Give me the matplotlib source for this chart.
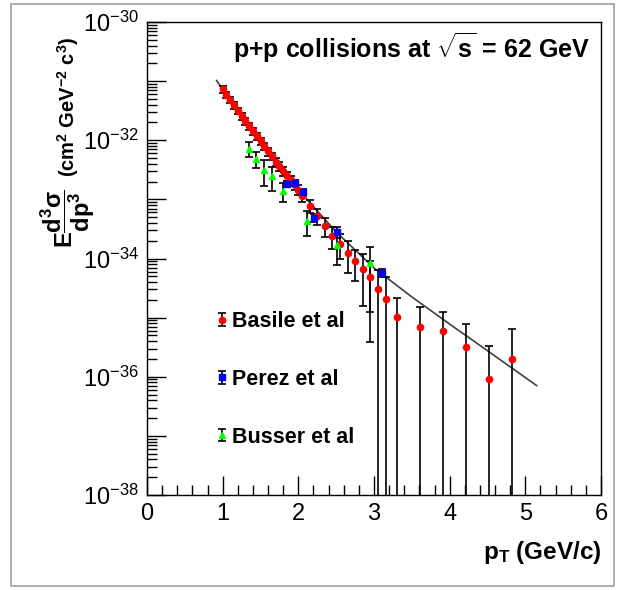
import numpy as np
import matplotlib.pyplot as plt
from matplotlib.ticker import LogLocator, MultipleLocator, FuncFormatter, NullFormatter, FixedLocator
from matplotlib.patches import Rectangle
from matplotlib.container import ErrorbarContainer
from matplotlib.legend_handler import HandlerErrorbar

plt.rcParams['font.family'] = ['Liberation Sans', 'DejaVu Sans']
plt.rcParams['mathtext.fontset'] = 'custom'
plt.rcParams['mathtext.rm'] = 'Liberation Sans'
plt.rcParams['mathtext.bf'] = 'Liberation Sans:bold'
plt.rcParams['mathtext.it'] = 'Liberation Sans:italic'

# Basile et al (red) - log10 of cross section, relative errors
basile_pt = [1.00, 1.05, 1.10, 1.15, 1.20, 1.25, 1.30, 1.35, 1.40, 1.45, 1.50,
             1.55, 1.60, 1.65, 1.70, 1.75, 1.80, 1.85, 1.90, 1.95, 2.00, 2.05,
             2.15, 2.25, 2.35, 2.45, 2.55, 2.65, 2.75, 2.85, 2.95, 3.05, 3.16,
             3.30, 3.61, 3.91, 4.21, 4.52, 4.82]
basile_log = [-31.14, -31.23, -31.32, -31.41, -31.50, -31.59, -31.68, -31.76, -31.85, -31.93, -32.02,
              -32.10, -32.19, -32.27, -32.36, -32.44, -32.52, -32.60, -32.68, -32.76, -32.84, -32.94,
              -33.11, -33.28, -33.45, -33.62, -33.75, -33.90, -34.04, -34.17, -34.32, -34.51, -34.69,
              -34.99, -35.16, -35.23, -35.50, -36.04, -35.70]
basile_rel = [0.12, 0.12, 0.12, 0.12, 0.12, 0.13, 0.13, 0.13, 0.14, 0.14, 0.14,
              0.15, 0.15, 0.15, 0.16, 0.16, 0.17, 0.17, 0.18, 0.18, 0.19, 0.20,
              0.25, 0.30, 0.35, 0.40, 0.45, 0.55, 0.55, 0.77, 0.92, 1.09, 1.40,
              1.09, 1.19, 1.09, 1.45, 2.70, 2.24]

# Perez et al (blue)
perez_pt = [1.85, 1.95, 2.06, 2.21, 2.51, 3.11]
perez_log = [-32.74, -32.72, -32.88, -33.31, -33.55, -34.24]
perez_rel = [0.12, 0.12, 0.15, 0.15, 0.20, 0.15]

# Busser et al (green)
busser_pt = [1.35, 1.44, 1.55, 1.65, 1.80, 2.11, 2.51, 2.95]
busser_log = [-32.14, -32.31, -32.50, -32.61, -32.85, -33.36, -33.77, -34.08]
busser_rel = [0.27, 0.30, 0.46, 0.44, 0.36, 0.45, 0.55, 0.85]

# fit curve
curve_pt = [0.92, 1.0, 1.25, 1.5, 1.75, 2.0, 2.5, 3.0, 3.5, 4.0, 4.5, 5.15]
curve_log = [-30.99, -31.14, -31.59, -32.02, -32.44, -32.84, -33.55, -34.16,
             -34.65, -35.11, -35.56, -36.15]

decades = [-38, -37, -36, -35, -34, -33, -32, -31, -30]

W, H = 622, 590
fig = plt.figure(figsize=(W / 100, H / 100), dpi=100)
ax = fig.add_axes([147 / W, 95 / H, 454 / W, 473 / H])
fig.patches.append(Rectangle((11 / W, 4 / H), 603 / W, 582 / H, transform=fig.transFigure,
                             fill=False, edgecolor='#a0a0a0', lw=1.2))

ax.plot(curve_pt, np.power(10.0, curve_log), color='#404040', lw=1.2, zorder=1)


def draw(pt, lg, rel, color, marker, ms, label):
    y = np.power(10.0, lg)
    e = y * np.array(rel)
    return ax.errorbar(pt, y, yerr=e, fmt=marker, color=color, ms=ms, mec=color,
                       ecolor='black', elinewidth=1.2, capsize=3, capthick=1.2,
                       label=label, zorder=3)


h1 = draw(basile_pt, basile_log, basile_rel, '#ff0000', 'o', 4.5, 'Basile et al')
h3 = draw(busser_pt, busser_log, busser_rel, '#00ff00', '^', 4.2, 'Busser et al')
h2 = draw(perez_pt, perez_log, perez_rel, '#0000ff', 's', 4.5, 'Perez et al')

ax.set_yscale('log')
ax.set_xlim(0, 6)
ax.set_ylim(1e-38, 1e-30)

ax.xaxis.set_major_locator(MultipleLocator(1))
ax.xaxis.set_minor_locator(MultipleLocator(0.2))
ax.yaxis.set_major_locator(FixedLocator(np.power(10.0, decades)))
ax.yaxis.set_minor_locator(LogLocator(base=10, subs=np.arange(2, 10), numticks=100))
ax.yaxis.set_minor_formatter(NullFormatter())
ax.yaxis.set_major_formatter(FuncFormatter(
    lambda v, p: r'$10^{%d}$' % round(np.log10(v)) if round(np.log10(v)) % 2 == 0 else ''))

ax.tick_params(which='both', direction='in', top=False, right=False, width=1)
ax.tick_params(which='major', length=14, labelsize=17, pad=6)
ax.tick_params(which='minor', length=7)
for s in ax.spines.values():
    s.set_linewidth(1)

ax.set_xlabel(r'p$_\mathbf{T}$ (GeV/c)', fontsize=17.5, fontweight='bold', loc='right')
ax.xaxis.set_label_coords(1.0, -0.092)

# y axis title in two pieces (fraction drawn larger, as in the original)
fig.text(68 / W, 1 - 219 / H, r'E$\mathbf{\dfrac{d^{3}\sigma}{dp^{3}}}$', rotation=90,
         ha='center', va='center', fontsize=17, fontweight='bold')
fig.text(68 / W, 1 - 107 / H, r'(cm$^\mathbf{2}$ GeV$^\mathbf{-2}$ c$^\mathbf{3}$)', rotation=90,
         ha='center', va='center', fontsize=14.5, fontweight='bold')

ax.text(0.976, 0.945, r'p+p collisions at $\mathbf{\sqrt{s}}$ = 62 GeV', transform=ax.transAxes,
        ha='right', va='center', fontsize=18, fontweight='bold')

ax.legend([h1, h2, h3], ['Basile et al', 'Perez et al', 'Busser et al'],
          loc='upper left', bbox_to_anchor=(0.132, 0.411), frameon=False,
          prop={'size': 15.5, 'weight': 'bold'}, handlelength=0.4, handletextpad=0.25,
          labelspacing=1.7, borderpad=0, numpoints=1,
          handler_map={ErrorbarContainer: HandlerErrorbar(yerr_size=0.3)})

fig.savefig('out.png', dpi=100)
